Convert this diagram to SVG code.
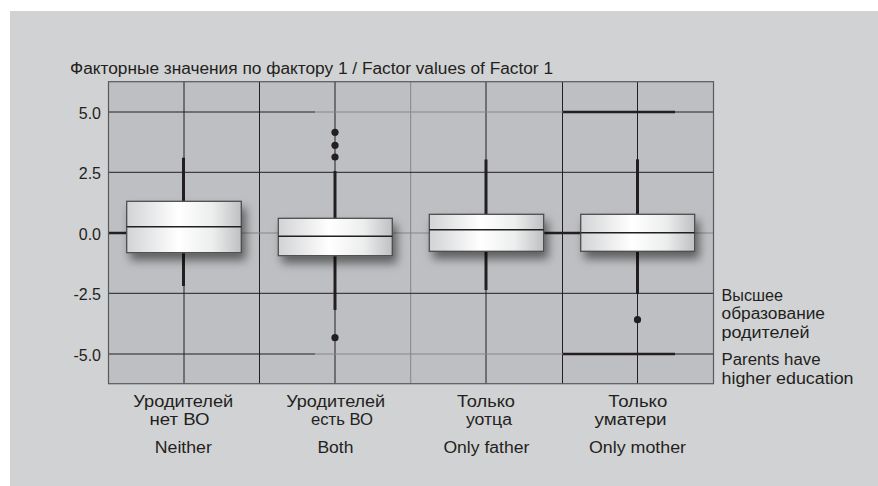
<svg xmlns="http://www.w3.org/2000/svg" width="878" height="486" viewBox="0 0 878 486">
  <defs>
    <linearGradient id="boxFill" x1="0" y1="0" x2="1" y2="0">
      <stop offset="0" stop-color="#d2d3d5"/>
      <stop offset="0.45" stop-color="#ffffff"/>
      <stop offset="0.75" stop-color="#eceded"/>
      <stop offset="1" stop-color="#bfc0c2"/>
    </linearGradient>
    <filter id="shadow" x="-30%" y="-40%" width="170%" height="220%">
      <feDropShadow dx="4" dy="7" stdDeviation="5" flood-color="#000" flood-opacity="0.5"/>
    </filter>
    <style>
      .t { font-family: "Liberation Sans", "Noto Sans", "DejaVu Sans", sans-serif; font-size: 16px; fill: #231f20; }
      .ax { text-anchor: end; }
      .mid { text-anchor: middle; }
      .g { stroke: #231f20; stroke-width: 1; fill: none; }
      .gl { stroke: #86878a; stroke-width: 1; fill: none; }
      .gt { stroke: #231f20; stroke-width: 2.5; fill: none; }
      .box { fill: url(#boxFill); stroke: #4d4d4f; stroke-width: 1.3; }
      .med { stroke: #231f20; stroke-width: 1.5; }
      .wh { stroke: #231f20; stroke-width: 3; }
      .out { fill: #231f20; }
    </style>
  </defs>

  <rect x="0" y="0" width="878" height="486" fill="#ffffff"/>
  <rect id="panel" x="10" y="11" width="868" height="475" fill="#d1d2d4"/>

  <text id="title" class="t" x="70" y="74" textLength="483" lengthAdjust="spacingAndGlyphs">Факторные значения по фактору 1 / Factor values of Factor 1</text>

  <g id="plot-area">
    <rect x="108.5" y="81.7" width="605" height="302" fill="#bebfc2"/>
  </g>

  <g id="grid">
    <line class="g" x1="184" y1="81.7" x2="184" y2="383.7"/>
    <line class="g" x1="259.5" y1="81.7" x2="259.5" y2="383.7"/>
    <line class="g" x1="335" y1="81.7" x2="335" y2="383.7"/>
    <line class="gl" x1="410.7" y1="81.7" x2="410.7" y2="383.7"/>
    <line class="g" x1="486" y1="81.7" x2="486" y2="383.7"/>
    <line class="g" x1="562.5" y1="81.7" x2="562.5" y2="383.7"/>
    <line class="g" x1="637.5" y1="81.7" x2="637.5" y2="383.7"/>
    <line class="g" x1="108.5" y1="112" x2="315" y2="112"/>
    <line class="gl" x1="315" y1="112" x2="563" y2="112"/>
    <line class="gt" x1="563" y1="112" x2="675" y2="112"/>
    <line class="g" x1="675" y1="112" x2="713.5" y2="112"/>
    <line class="g" x1="108.5" y1="172.3" x2="713.5" y2="172.3"/>
    <line class="gl" x1="108.5" y1="233" x2="713.5" y2="233"/>
    <line class="gt" x1="108.5" y1="233" x2="127" y2="233"/>
    <line class="gt" x1="543.5" y1="233" x2="581" y2="233"/>
    <line class="g" x1="108.5" y1="293.3" x2="713.5" y2="293.3"/>
    <line class="g" x1="108.5" y1="354" x2="315" y2="354"/>
    <line class="gl" x1="315" y1="354" x2="563" y2="354"/>
    <line class="gt" x1="563" y1="354" x2="675" y2="354"/>
    <line class="g" x1="675" y1="354" x2="713.5" y2="354"/>
    <rect x="108.5" y="81.7" width="605" height="302" fill="none" stroke="#58595b" stroke-width="1.2"/>
  </g>

  <g id="y-axis">
    <text class="t ax" x="101" y="119">5.0</text>
    <text class="t ax" x="101" y="179.3">2.5</text>
    <text class="t ax" x="101" y="240">0.0</text>
    <text class="t ax" x="101" y="300.3">-2.5</text>
    <text class="t ax" x="101" y="361">-5.0</text>
  </g>

  <g id="connectors"></g>

  <g id="box-neither">
    <line class="wh" x1="183.5" y1="157.7" x2="183.5" y2="201.3"/>
    <line class="wh" x1="183.5" y1="252.7" x2="183.5" y2="286"/>
    <rect class="box" x="126.7" y="201.3" width="114.6" height="51.4" filter="url(#shadow)"/>
    <line class="med" x1="126.7" y1="226.7" x2="241.3" y2="226.7"/>
  </g>

  <g id="box-both">
    <line class="wh" x1="335" y1="171" x2="335" y2="218.3"/>
    <line class="wh" x1="335" y1="255.7" x2="335" y2="310"/>
    <rect class="box" x="278.3" y="218.3" width="114" height="37.4" filter="url(#shadow)"/>
    <line class="med" x1="278.3" y1="236.3" x2="392.3" y2="236.3"/>
    <circle class="out" cx="335" cy="132.3" r="3.6"/>
    <circle class="out" cx="335" cy="145.3" r="3.6"/>
    <circle class="out" cx="335" cy="157" r="3.6"/>
    <circle class="out" cx="335" cy="337.7" r="3.6"/>
  </g>

  <g id="box-only-father">
    <line class="wh" x1="486" y1="159.5" x2="486" y2="214.3"/>
    <line class="wh" x1="486" y1="251.3" x2="486" y2="290"/>
    <rect class="box" x="429.3" y="214.3" width="114.4" height="37" filter="url(#shadow)"/>
    <line class="med" x1="429.3" y1="229.7" x2="543.7" y2="229.7"/>
  </g>

  <g id="box-only-mother">
    <line class="wh" x1="637.5" y1="159.3" x2="637.5" y2="214.3"/>
    <line class="wh" x1="637.5" y1="251.3" x2="637.5" y2="294"/>
    <rect class="box" x="580.7" y="214.3" width="114" height="37" filter="url(#shadow)"/>
    <line class="med" x1="580.7" y1="232.7" x2="694.7" y2="232.7"/>
    <circle class="out" cx="637.5" cy="319.7" r="3.6"/>
  </g>

  <g id="legend-right">
    <text class="t" x="721.5" y="300.5" textLength="61.5" lengthAdjust="spacingAndGlyphs">Высшее</text>
    <text class="t" x="721.5" y="319" textLength="103.5" lengthAdjust="spacingAndGlyphs">образование</text>
    <text class="t" x="721.5" y="337.5" textLength="88" lengthAdjust="spacingAndGlyphs">родителей</text>
    <text class="t" x="721.5" y="365" textLength="99" lengthAdjust="spacingAndGlyphs">Parents have</text>
    <text class="t" x="721.5" y="383.5" textLength="132" lengthAdjust="spacingAndGlyphs">higher education</text>
  </g>

  <g id="label-neither">
    <text class="t mid" x="183.3" y="406.7" textLength="100" lengthAdjust="spacingAndGlyphs">Уродителей</text>
    <text class="t mid" x="179.5" y="425.2" textLength="60" lengthAdjust="spacingAndGlyphs">нет ВО</text>
    <text class="t mid" x="183.3" y="452.7" textLength="57" lengthAdjust="spacingAndGlyphs">Neither</text>
  </g>
  <g id="label-both">
    <text class="t mid" x="335.7" y="406.7" textLength="99" lengthAdjust="spacingAndGlyphs">Уродителей</text>
    <text class="t mid" x="342" y="425.2" textLength="62" lengthAdjust="spacingAndGlyphs">есть ВО</text>
    <text class="t mid" x="335.4" y="452.7" textLength="36" lengthAdjust="spacingAndGlyphs">Both</text>
  </g>
  <g id="label-only-father">
    <text class="t mid" x="486" y="406.7" textLength="58" lengthAdjust="spacingAndGlyphs">Только</text>
    <text class="t mid" x="489" y="425.2" textLength="46" lengthAdjust="spacingAndGlyphs">уотца</text>
    <text class="t mid" x="486.4" y="452.7" textLength="86" lengthAdjust="spacingAndGlyphs">Only father</text>
  </g>
  <g id="label-only-mother">
    <text class="t mid" x="637.8" y="406.7" textLength="59" lengthAdjust="spacingAndGlyphs">Только</text>
    <text class="t mid" x="630.6" y="425.2" textLength="72" lengthAdjust="spacingAndGlyphs">уматери</text>
    <text class="t mid" x="637.5" y="452.7" textLength="97" lengthAdjust="spacingAndGlyphs">Only mother</text>
  </g>
</svg>
